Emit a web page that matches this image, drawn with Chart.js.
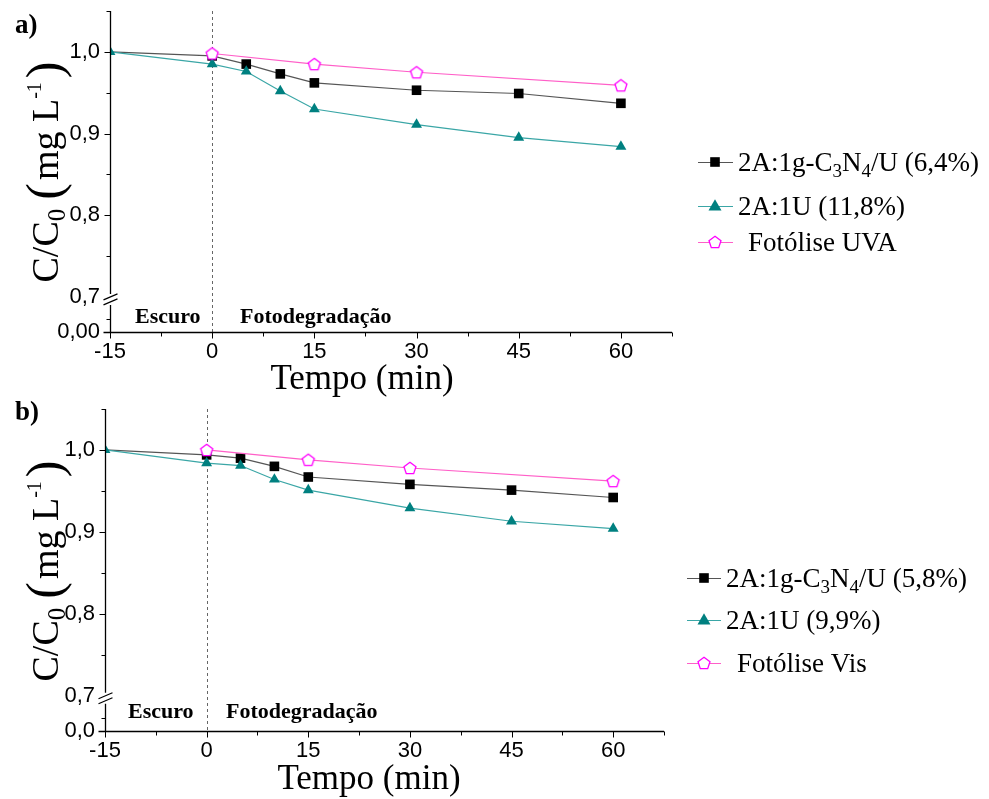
<!DOCTYPE html>
<html><head><meta charset="utf-8">
<script src="https://cdn.jsdelivr.net/npm/chart.js@4.4.1/dist/chart.umd.min.js"></script>
<style>
html,body{margin:0;padding:0;background:#fff;width:989px;height:799px;overflow:hidden}
.panel{position:absolute;left:0;width:989px;height:400px}
</style></head><body>
<div class="panel" style="top:0"><canvas id="ca" width="989" height="400"></canvas></div>
<div class="panel" style="top:398px"><canvas id="cb" width="989" height="400"></canvas></div>
<script>
// ---------- data ----------
const timeFull = [-15, 0, 5, 10, 15, 30, 45, 60];
const timePhoto = [0, 15, 30, 60];

const aGC3N4 = [1.000, 0.995, 0.985, 0.973, 0.962, 0.953, 0.949, 0.937];
const aU     = [1.000, 0.985, 0.976, 0.952, 0.930, 0.911, 0.895, 0.884];
const aUVA   = [0.998, 0.985, 0.975, 0.959];

const bGC3N4 = [1.000, 0.994, 0.990, 0.980, 0.967, 0.958, 0.951, 0.942];
const bU     = [1.000, 0.984, 0.981, 0.964, 0.951, 0.929, 0.913, 0.904];
const bVis   = [1.000, 0.988, 0.978, 0.962];

const legendA = ['2A:1g-C_3N_4/U (6,4%)', '2A:1U (11,8%)', 'Fotólise UVA'];
const legendB = ['2A:1g-C_3N_4/U (5,8%)', '2A:1U (9,9%)', 'Fotólise Vis'];

const xTicks = [-15, 0, 15, 30, 45, 60];
const xTickLabels = ['-15', '0', '15', '30', '45', '60'];
const xMinorTicks = [-7.5, 7.5, 22.5, 37.5, 52.5, 67.5];
const yTicks = [0.7, 0.8, 0.9, 1.0];
const yTickLabels = ['0,7', '0,8', '0,9', '1,0'];
const yMinorTicks = [0.75, 0.85, 0.95, 1.05];
const yBreakValue = 0.657;          // position of the "0" on the broken axis
const yZeroLabelA = '0,00';
const yZeroLabelB = '0,0';
const regionLabels = ['Escuro', 'Fotodegradação'];
const xTitle = 'Tempo (min)';

// ---------- styles ----------
const SERIF = '"Liberation Serif", "Times New Roman", serif';
const SANS = '"Liberation Sans", Arial, sans-serif';
const COL = {
  black: {line: '#555555', mark: '#000000'},
  teal: {line: '#3aa6a6', mark: '#008080'},
  pink: {line: '#ff5fc8', mark: '#ff00ff'}
};

const pentagon = (() => {
  const c = document.createElement('canvas'); c.width = 16; c.height = 16;
  const g = c.getContext('2d');
  g.beginPath();
  for (let i = 0; i < 5; i++) {
    const a = -Math.PI / 2 + i * 2 * Math.PI / 5;
    const px = 8 + 6.3 * Math.cos(a), py = 8.6 + 6.3 * Math.sin(a);
    i ? g.lineTo(px, py) : g.moveTo(px, py);
  }
  g.closePath(); g.fillStyle = '#fff'; g.fill();
  g.strokeStyle = COL.pink.mark; g.lineWidth = 1.3; g.stroke();
  return c;
})();

function pts(xs, ys) { return xs.map((x, i) => ({x, y: ys[i]})); }

function parseRich(str, size) {
  const parts = [];
  const re = /_(.)/g; let last = 0, m;
  while ((m = re.exec(str))) {
    if (m.index > last) parts.push({t: str.slice(last, m.index), s: size, dy: 0});
    parts.push({t: m[1], s: Math.round(size * 0.7), dy: size * 0.22});
    last = re.lastIndex;
  }
  if (last < str.length) parts.push({t: str.slice(last), s: size, dy: 0});
  return parts;
}
function drawParts(ctx, parts, x, y, align, bold) {
  ctx.textBaseline = 'alphabetic'; ctx.textAlign = 'left';
  let w = 0;
  parts.forEach(p => { ctx.font = (bold ? 'bold ' : '') + p.s + 'px ' + SERIF; p.w = ctx.measureText(p.t).width + (p.gap || 0); w += p.w; });
  let cx = align === 'center' ? x - w / 2 : x;
  parts.forEach(p => { ctx.font = (bold ? 'bold ' : '') + p.s + 'px ' + SERIF; ctx.fillText(p.t, cx, y + (p.dy || 0)); cx += p.w; });
}
function drawMarker(ctx, kind, x, y) {
  ctx.save();
  if (kind === 'rect') { ctx.fillStyle = COL.black.mark; ctx.fillRect(x - 4.8, y - 4.8, 9.6, 9.6); }
  else if (kind === 'triangle') {
    ctx.fillStyle = COL.teal.mark; ctx.beginPath();
    ctx.moveTo(x, y - 6.8); ctx.lineTo(x + 6.5, y + 4.4); ctx.lineTo(x - 6.5, y + 4.4); ctx.closePath(); ctx.fill();
  } else { ctx.drawImage(pentagon, x - 8, y - 8); }
  ctx.restore();
}

const decoPlugin = {
  id: 'deco',
  beforeDatasetsDraw(chart, args, o) {
    const {ctx} = chart; const x = chart.scales.x, y = chart.scales.y;
    ctx.save();
    ctx.strokeStyle = '#666'; ctx.lineWidth = 1; ctx.setLineDash([3, 3]);
    const px = Math.round(x.getPixelForValue(0)) + 0.5;
    ctx.beginPath(); ctx.moveTo(px, y.getPixelForValue(1.05)); ctx.lineTo(px, y.getPixelForValue(yBreakValue)); ctx.stroke();
    ctx.restore();
  },
  afterDraw(chart, args, o) {
    const {ctx} = chart; const xs = chart.scales.x, ys = chart.scales.y;
    const L = Math.round(xs.left) + 0.5, R = xs.right, B = Math.round(ys.getPixelForValue(yBreakValue)) + 0.5;
    const T = ys.getPixelForValue(1.05);
    const p07 = ys.getPixelForValue(0.7);
    ctx.save();
    ctx.strokeStyle = '#000'; ctx.lineWidth = 1.3; ctx.setLineDash([]);
    // y axis with break
    ctx.beginPath();
    ctx.moveTo(L, T); ctx.lineTo(L, p07 - 3);
    ctx.moveTo(L, p07 + 8); ctx.lineTo(L, B);
    // x axis
    ctx.moveTo(L - 7, B); ctx.lineTo(R, B);
    ctx.stroke();
    // break marks
    ctx.lineWidth = 1.2;
    ctx.beginPath();
    ctx.moveTo(L - 7, p07 + 3); ctx.lineTo(L + 7, p07 - 3);
    ctx.moveTo(L - 7, p07 + 8); ctx.lineTo(L + 7, p07 + 2);
    ctx.stroke();
    // y ticks
    ctx.lineWidth = 1;
    ctx.beginPath();
    yTicks.filter(v => v > 0.75).forEach(v => { const py = Math.round(ys.getPixelForValue(v)) + 0.5; ctx.moveTo(L, py); ctx.lineTo(L - 6, py); });
    yMinorTicks.forEach(v => { const py = Math.round(ys.getPixelForValue(v)) + 0.5; ctx.moveTo(L, py); ctx.lineTo(L - 4, py); });
    const pm = Math.round((p07 + 8 + B) / 2) + 0.5; ctx.moveTo(L, pm); ctx.lineTo(L - 4, pm);
    // x ticks
    xTicks.forEach(v => { const px = Math.round(xs.getPixelForValue(v)) + 0.5; ctx.moveTo(px, B); ctx.lineTo(px, B + 6); });
    xMinorTicks.forEach(v => { const px = Math.round(xs.getPixelForValue(v)) + 0.5; ctx.moveTo(px, B); ctx.lineTo(px, B + 4); });
    ctx.stroke();

    ctx.fillStyle = '#000';
    // region labels
    ctx.font = 'bold 22px ' + SERIF; ctx.textBaseline = 'alphabetic'; ctx.textAlign = 'left';
    ctx.fillText(regionLabels[0], o.esc[0], o.esc[1]);
    ctx.fillText(regionLabels[1], o.foto[0], o.foto[1]);
    // panel label
    ctx.font = 'bold 27px ' + SERIF; ctx.fillText(o.panel, o.panelPos[0], o.panelPos[1]);
    // x title
    ctx.font = '35px ' + SERIF; ctx.textAlign = 'center'; ctx.fillText(xTitle, o.xTitle[0], o.xTitle[1]);
    // y title (rotated rich text)
    ctx.save();
    ctx.translate(o.yTitle[0], o.yTitle[1]); ctx.rotate(-Math.PI / 2);
    drawParts(ctx, [
      {t: 'C/C', s: 38}, {t: '0', s: 25, dy: 7, gap: 9},
      {t: '(', s: 50, dy: 3, gap: 3}, {t: 'mg L', s: 38}, {t: '-1', s: 20, dy: -17, gap: 4}, {t: ')', s: 50, dy: 3}
    ], 0, 13, 'center', false);
    ctx.restore();
    // legend
    const lg = o.legend;
    chart.data.datasets.forEach((ds, i) => {
      const ry = lg.rowY[i];
      ctx.strokeStyle = ds.borderColor; ctx.lineWidth = 1.2;
      ctx.beginPath(); ctx.moveTo(lg.lineX0, ry + 0.5); ctx.lineTo(lg.lineX1, ry + 0.5); ctx.stroke();
      drawMarker(ctx, ds.legendMarker, lg.markX, ry);
      ctx.fillStyle = '#000';
      drawParts(ctx, parseRich(o.labels[i], 27), lg.textX[i], ry + 9, 'left', false);
    });
    ctx.restore();
  }
};

function makeChart(id, P, sCN, sU, sP, labels, zeroLabel) {
  const yLabel = v => {
    if (Math.abs(v - yBreakValue) < 1e-6) return zeroLabel;
    const k = yTicks.findIndex(t => Math.abs(t - v) < 1e-6);
    return k >= 0 ? yTickLabels[k] : '';
  };
  return new Chart(document.getElementById(id), {
    type: 'line',
    data: {
      datasets: [
        {label: labels[0], data: pts(timeFull, sCN), borderColor: COL.black.line, borderWidth: 1.2,
         pointStyle: 'rect', pointRadius: c => c.dataIndex === 0 ? 0 : 6.8, pointBackgroundColor: COL.black.mark,
         pointBorderColor: COL.black.mark, pointBorderWidth: 0, order: 2, legendMarker: 'rect'},
        {label: labels[1], data: pts(timeFull, sU), borderColor: COL.teal.line, borderWidth: 1.2,
         pointStyle: 'triangle', pointRadius: 6.3, pointBackgroundColor: COL.teal.mark,
         pointBorderColor: COL.teal.mark, pointBorderWidth: 0, order: 1, legendMarker: 'triangle'},
        {label: labels[2], data: pts(timePhoto, sP), borderColor: COL.pink.line, borderWidth: 1.2,
         pointStyle: pentagon, pointRadius: 6, order: 0, legendMarker: 'pentagon'}
      ]
    },
    options: {
      responsive: false, animation: false, devicePixelRatio: 1,
      layout: {padding: {top: P.top, right: 989 - P.right, left: 0, bottom: 0}},
      plugins: {legend: {display: false}, tooltip: {enabled: false},
        deco: {esc: P.esc, foto: P.foto, panel: P.panel, panelPos: P.panelPos, xTitle: P.xTitle, yTitle: P.yTitle, legend: P.legend, labels}},
      scales: {
        x: {type: 'linear', min: -15, max: 67.5,
          afterBuildTicks: s => { s.ticks = xTicks.map(v => ({value: v})); },
          afterFit: s => { s.height = 400 - P.bottom; s.paddingLeft = 0; s.paddingRight = 0; },
          ticks: {autoSkip: false, maxRotation: 0, padding: 7, color: '#000', font: {family: SANS, size: 22},
            callback: v => { const k = xTicks.indexOf(v); return k >= 0 ? xTickLabels[k] : ''; }},
          grid: {display: false, drawTicks: false}, border: {display: false}},
        y: {type: 'linear', min: yBreakValue, max: 1.05,
          afterBuildTicks: s => { s.ticks = [yBreakValue, ...yTicks].map(v => ({value: v})); },
          afterFit: s => { s.width = P.left; s.paddingTop = 0; s.paddingBottom = 0; },
          ticks: {autoSkip: false, padding: 10, color: '#000', font: {family: SANS, size: 22}, callback: yLabel},
          grid: {display: false, drawTicks: false}, border: {display: false}}
      }
    },
    plugins: [decoPlugin]
  });
}

makeChart('ca', {
  left: 110, right: 672, top: 11, bottom: 332,
  esc: [135, 323], foto: [240, 323], panel: 'a)', panelPos: [15, 33],
  xTitle: [362, 389], yTitle: [45, 172],
  legend: {lineX0: 698, lineX1: 733, markX: 715, textX: [738, 738, 748], rowY: [162, 206, 242]}
}, aGC3N4, aU, aUVA, legendA, yZeroLabelA);

makeChart('cb', {
  left: 105, right: 664, top: 11, bottom: 333,
  esc: [128, 320], foto: [226, 320], panel: 'b)', panelPos: [15, 22],
  xTitle: [369, 391], yTitle: [45, 173],
  legend: {lineX0: 687, lineX1: 721, markX: 704, textX: [726, 726, 737], rowY: [180, 222, 265]}
}, bGC3N4, bU, bVis, legendB, yZeroLabelB);
</script>
</body></html>
